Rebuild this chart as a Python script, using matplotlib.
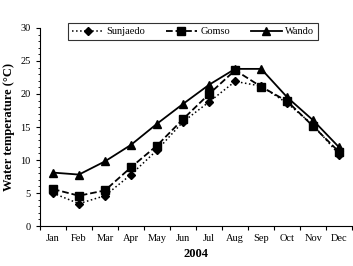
import matplotlib
matplotlib.use('Agg')
import matplotlib.pyplot as plt
import numpy as np
from matplotlib.ticker import MultipleLocator

months = ['Jan', 'Feb', 'Mar', 'Apr', 'May', 'Jun', 'Jul', 'Aug', 'Sep', 'Oct', 'Nov', 'Dec']
sunjaedo = [5.0, 3.4, 4.6, 7.8, 11.5, 15.8, 18.8, 21.9, 21.2, 18.6, 15.3, 10.8]
gomso = [5.6, 4.6, 5.4, 8.9, 12.2, 16.2, 20.0, 23.6, 21.1, 18.9, 15.1, 11.2]
wando = [8.1, 7.8, 9.8, 12.3, 15.5, 18.5, 21.4, 23.8, 23.8, 19.5, 16.0, 11.9]

plt.rcParams['font.family'] = ['Liberation Serif', 'DejaVu Serif']
fig = plt.figure(figsize=(3.53, 2.66), dpi=100)
ax = fig.add_axes([0.113, 0.150, 0.885, 0.745])

x = np.arange(len(months)) + 0.5
ax.plot(x, sunjaedo, color='black', ls=':', lw=1.1, marker='D', ms=4, label='Sunjaedo')
ax.plot(x, gomso, color='black', ls='--', lw=1.3, marker='s', ms=5.5, label='Gomso')
ax.plot(x, wando, color='black', ls='-', lw=1.3, marker='^', ms=5.5, label='Wando')

ax.set_xlim(0, 12)
ax.set_ylim(0, 30)
ax.set_xticks(np.arange(13))
ax.set_xticklabels([])
ax.set_xticks(x, minor=True)
ax.set_xticklabels(months, minor=True, fontsize=7.5)
ax.tick_params(axis='x', which='minor', length=0, pad=6)
ax.tick_params(axis='x', which='major', length=3, direction='out')
ax.yaxis.set_major_locator(MultipleLocator(5))
ax.yaxis.set_minor_locator(MultipleLocator(1))
ax.tick_params(axis='y', which='major', labelsize=7.5, length=3)
ax.tick_params(axis='y', which='minor', length=1.5)
ax.spines['top'].set_visible(False)
ax.spines['right'].set_visible(False)

ax.set_ylabel('Water temperature (°C)', fontsize=9, fontweight='bold', labelpad=4)
ax.set_xlabel('2004', fontsize=9, fontweight='bold', labelpad=3)

leg = ax.legend(loc='upper center', bbox_to_anchor=(0.49, 1.05), ncol=3, fontsize=7.5,
                frameon=True, fancybox=False, edgecolor='black', handlelength=3,
                columnspacing=2.0, borderpad=0.35, handletextpad=0.3)
leg.get_frame().set_linewidth(0.8)

fig.savefig('out.png', dpi=100)
